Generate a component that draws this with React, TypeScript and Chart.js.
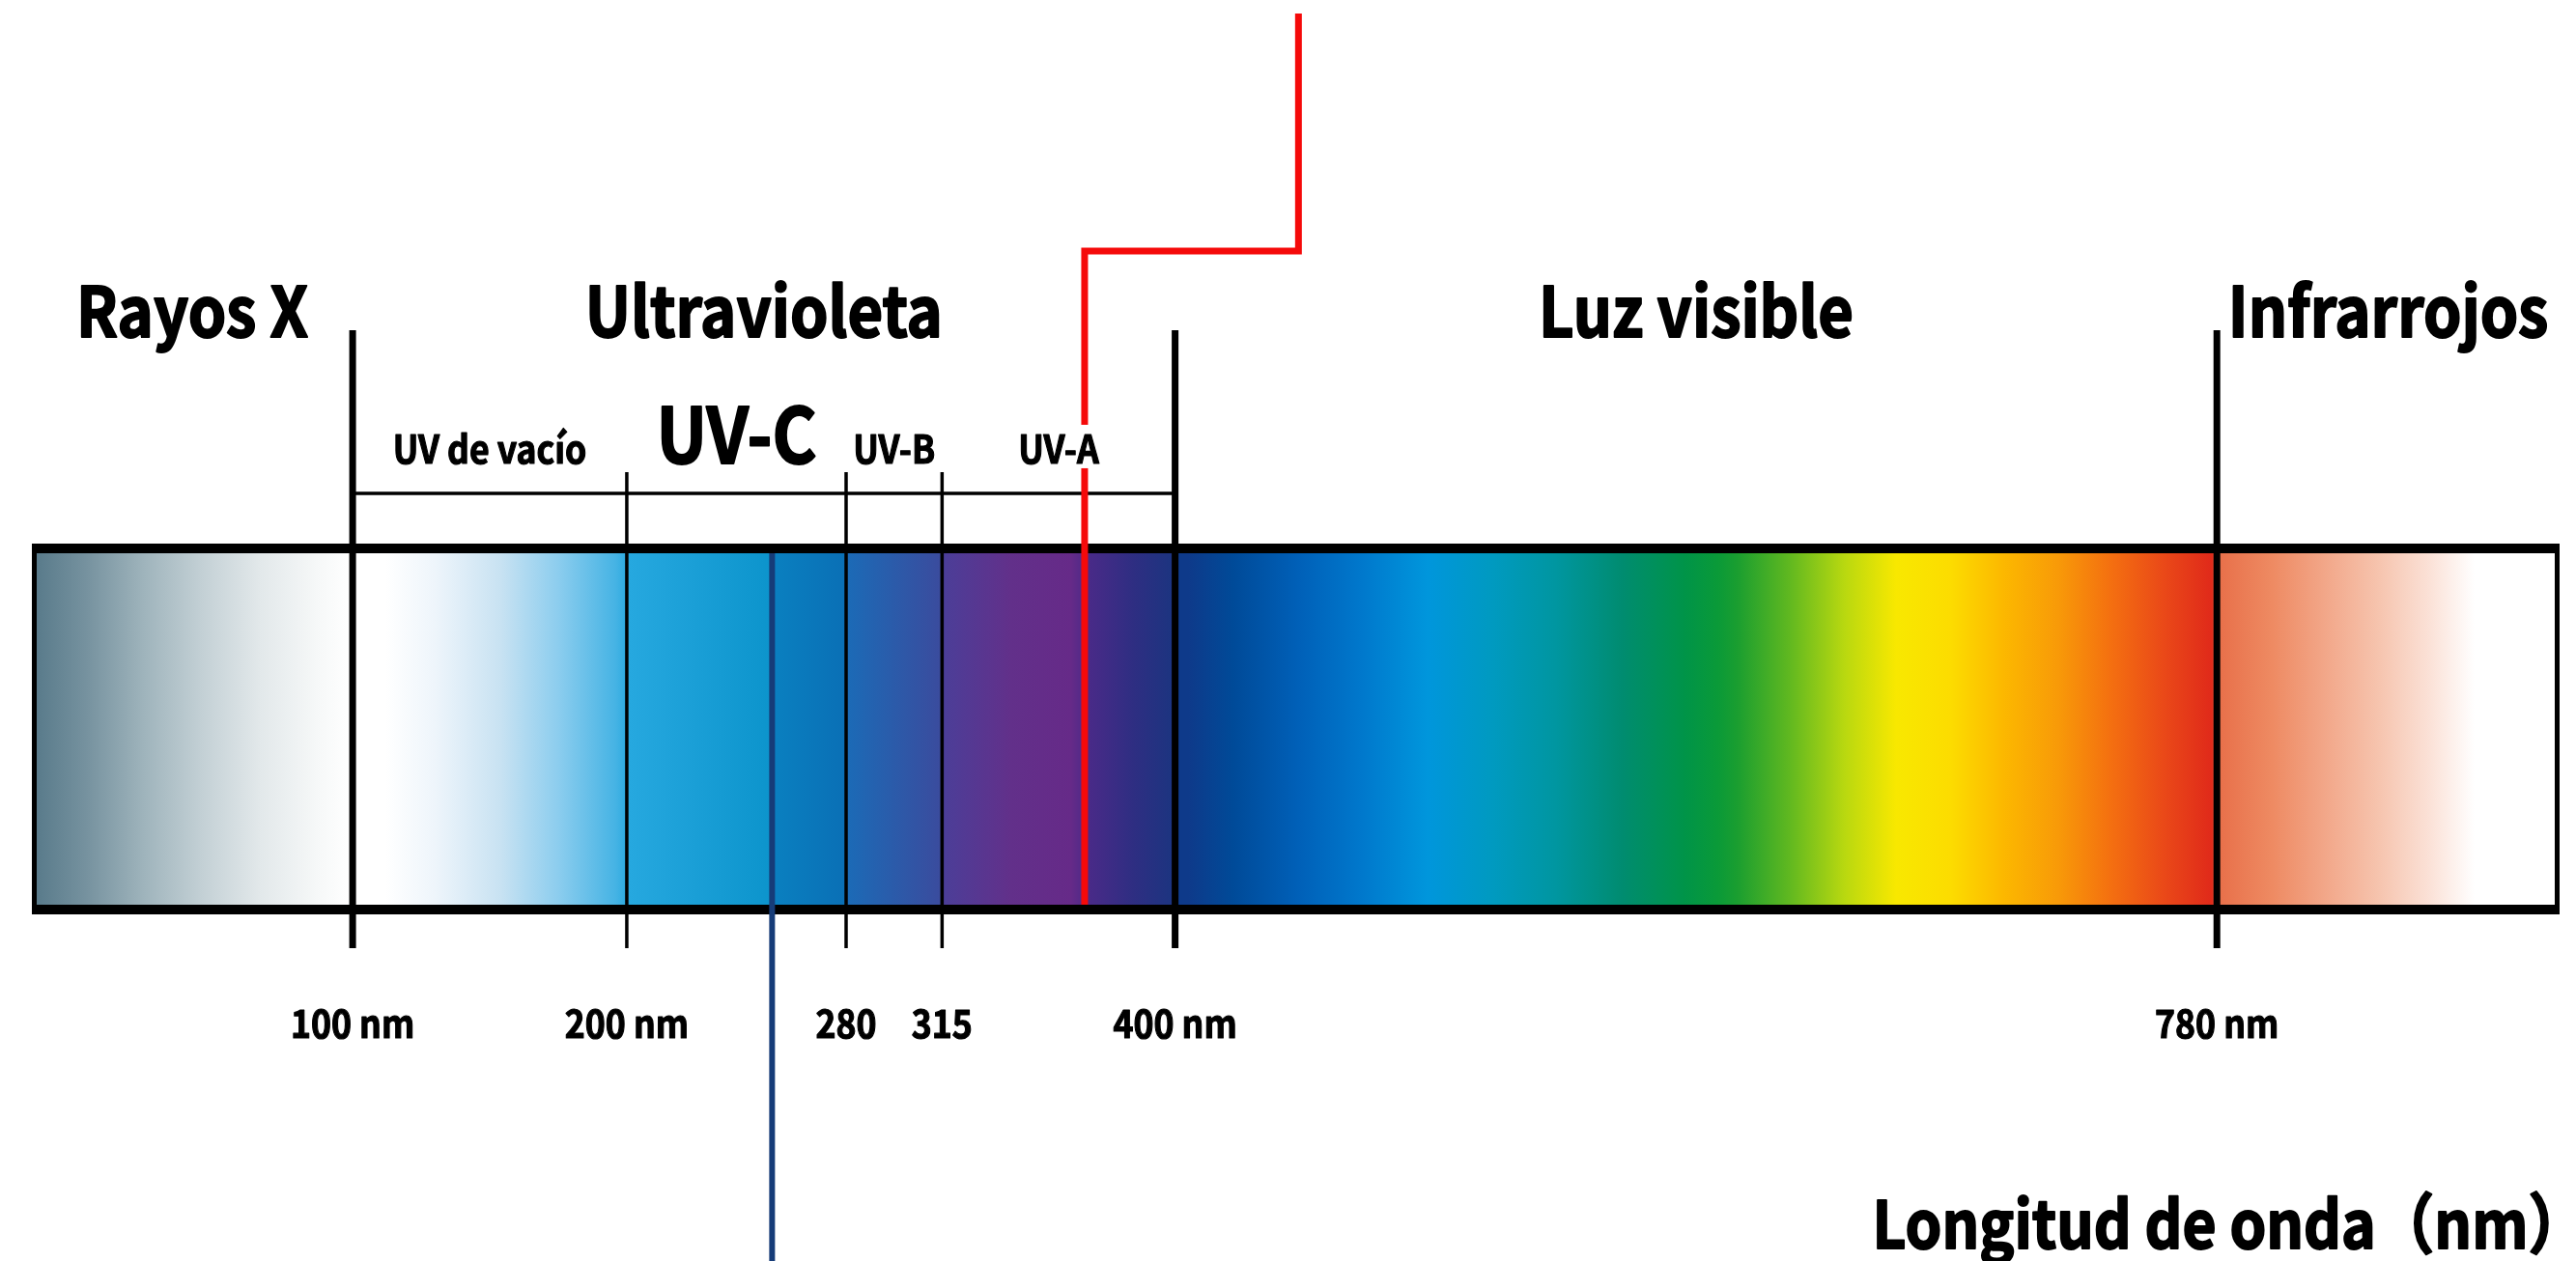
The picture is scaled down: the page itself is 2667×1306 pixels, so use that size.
import React, { useEffect, useRef } from "react";
import { Chart, registerables } from "chart.js";

Chart.register(...registerables);

// ---- axis range (wavelength, nm) and vertical frame (0..100 units) ----
const xRange = [-17, 905];
const yRange = [0, 100];

// ---- spectrum regions ----
const regionNames = ["Rayos X", "Ultravioleta", "Luz visible", "Infrarrojos"];
const regionBounds = [-17, 100, 400, 780, 905];

// ---- UV sub-bands ----
const uvBandNames = ["UV de vacío", "UV-C", "UV-B", "UV-A"];
const uvBandBounds = [100, 200, 280, 315, 400];

// ---- wavelength tick labels ----
const tickValues = [100, 200, 280, 315, 400, 780];
const tickLabels = ["100 nm", "200 nm", "280", "315", "400 nm", "780 nm"];

// ---- boundary lines ----
const majorLines = [100, 400, 780];
const minorLines = [200, 280, 315];

// ---- lamp markers ----
const uvaLampNm = 367;
const uvaCalloutNm = 445;
const uvcLampNm = 253;

// ---- vertical levels (0..100) ----
const barTop = 56.51;
const barBottom = 27.87;
const barInnerTop = 56.13;
const barInnerBottom = 28.25;
const majorLineTop = 73.81;
const minorLineTop = 62.56;
const lineBottom = 24.81;
const bracketLevel = 60.87;
const calloutElbow = 80.09;
const calloutTop = 98.93;
const titleLevel = 73.28;
const bandLabelLevel = 63.25;
const tickLabelLevel = 17.69;
const axisTitleLevel = 1.0;

const axisTitle = "Longitud de onda（nm）";

// ---- gradient stops (nm, colour) ----
const gradientNm = [
  -16, 3, 24, 45, 66, 87, 99,
  101, 112, 130, 154, 175, 196, 201, 252.9, 253.1, 279, 281, 314, 316, 340, 362, 368, 385, 399,
  401, 405, 421, 445, 468, 492, 516, 539, 563, 586, 598, 605, 624, 644, 663, 683, 702, 722, 741, 760, 778,
  781, 800, 819, 839, 858, 874, 905,
];
const gradientColors = [
  "#587a8a", "#76929f", "#9fb4bc", "#c3d0d5", "#e2e8ea", "#f6f8f8", "#ffffff",
  "#ffffff", "#ffffff", "#eef5fb", "#c8e2f2", "#8ccdee", "#45b3e4", "#26a8df", "#0c94cc", "#0a80c0", "#0a70b6", "#1c6ab6", "#3a4c9e", "#4c3e98", "#62308a", "#662a88", "#4a2a88", "#2e2e82", "#1c3480",
  "#0e3a8a", "#0e3a8a", "#004a98", "#0060b8", "#0078cc", "#0096dc", "#009ac0", "#0096a0", "#008c70", "#009448", "#0a9a38", "#1a9e30", "#60b820", "#b8d810", "#f8e800", "#fcdc00", "#fcb800", "#f89a08", "#f47010", "#ea4a18", "#e02a1a",
  "#e8704a", "#ee8a62", "#f2a688", "#f6c4ae", "#fbe2d8", "#ffffff", "#ffffff",
];

const FONT = '"Noto Sans CJK SC", "Noto Sans", sans-serif';
const CONDENSE = 0.89;

function vline(x: number, y0: number, y1: number, color: string, width: number) {
  return {
    data: [
      { x, y: y0 },
      { x, y: y1 },
    ],
    showLine: true,
    borderColor: color,
    borderWidth: width,
    pointRadius: 0,
    borderCapStyle: "butt",
    fill: false,
  };
}

function drawText(
  ctx: any,
  text: string,
  x: number,
  y: number,
  font: string,
  align: string,
  heavy: number,
  backing = false
) {
  ctx.save();
  ctx.font = font;
  ctx.textAlign = align;
  ctx.textBaseline = "alphabetic";
  ctx.translate(x, y);
  ctx.scale(CONDENSE, 1);
  if (backing) {
    const m = ctx.measureText(text);
    const asc = m.actualBoundingBoxAscent;
    const desc = m.actualBoundingBoxDescent;
    const left = align === "center" ? -m.width / 2 : align === "right" ? -m.width : 0;
    ctx.fillStyle = "#fff";
    ctx.fillRect(left - 4, -asc - 10, m.width + 8, asc + desc + 14);
  }
  ctx.fillStyle = "#000";
  ctx.strokeStyle = "#000";
  ctx.lineJoin = "round";
  ctx.lineWidth = heavy;
  ctx.strokeText(text, 0, 0);
  ctx.fillText(text, 0, 0);
  ctx.restore();
}

const labelsPlugin = {
  id: "spectrumLabels",
  afterDatasetsDraw(chart: any) {
    const { ctx, scales } = chart;
    const xs = scales.x;
    const ys = scales.y;

    regionNames.forEach((name, i) => {
      const cx = xs.getPixelForValue((regionBounds[i] + regionBounds[i + 1]) / 2);
      drawText(ctx, name, cx, ys.getPixelForValue(titleLevel), `bold 71px ${FONT}`, "center", 2);
    });

    uvBandNames.forEach((name, i) => {
      const big = name === "UV-C";
      const cx = xs.getPixelForValue((uvBandBounds[i] + uvBandBounds[i + 1]) / 2);
      drawText(
        ctx,
        name,
        cx,
        ys.getPixelForValue(bandLabelLevel),
        big ? `bold 79px ${FONT}` : `bold 40px ${FONT}`,
        "center",
        big ? 2 : 1.2,
        true
      );
    });

    tickValues.forEach((v, i) => {
      drawText(
        ctx,
        tickLabels[i],
        xs.getPixelForValue(v),
        ys.getPixelForValue(tickLabelLevel),
        `bold 40px ${FONT}`,
        "center",
        1.2
      );
    });

    drawText(
      ctx,
      axisTitle,
      xs.getPixelForValue(xRange[1]) + 28,
      ys.getPixelForValue(axisTitleLevel),
      `bold 68px ${FONT}`,
      "right",
      2
    );
  },
};

export default function App() {
  const ref = useRef<HTMLCanvasElement>(null);
  useEffect(() => {
    if (!ref.current) return;
    const datasets: any[] = [];
    // red UV-A callout (topmost)
    datasets.push({
      data: [
        { x: uvaLampNm, y: barInnerBottom },
        { x: uvaLampNm, y: calloutElbow },
        { x: uvaCalloutNm, y: calloutElbow },
        { x: uvaCalloutNm, y: calloutTop },
      ],
      showLine: true,
      borderColor: "#f50a0a",
      borderWidth: 7,
      pointRadius: 0,
      borderJoinStyle: "miter",
      fill: false,
    });
    // blue UV-C lamp line
    datasets.push(vline(uvcLampNm, barInnerTop, yRange[0] - 2, "#163c78", 6));
    // bar outline
    datasets.push({
      data: [
        { x: xRange[0], y: barBottom },
        { x: xRange[0], y: barTop },
        { x: xRange[1], y: barTop },
        { x: xRange[1], y: barBottom },
        { x: xRange[0], y: barBottom },
      ],
      showLine: true,
      borderColor: "#000",
      borderWidth: 10,
      pointRadius: 0,
      borderJoinStyle: "miter",
      borderCapStyle: "square",
      fill: false,
    });
    majorLines.forEach((v) => datasets.push(vline(v, lineBottom, majorLineTop, "#000", 7)));
    minorLines.forEach((v) => datasets.push(vline(v, lineBottom, minorLineTop, "#000", 3.5)));
    // bracket over UV
    datasets.push({
      data: [
        { x: uvBandBounds[0], y: bracketLevel },
        { x: uvBandBounds[uvBandBounds.length - 1], y: bracketLevel },
      ],
      showLine: true,
      borderColor: "#000",
      borderWidth: 3.5,
      pointRadius: 0,
      fill: false,
    });
    // spectrum fill
    datasets.push({
      data: [
        { x: xRange[0], y: barTop },
        { x: xRange[1], y: barTop },
      ],
      showLine: true,
      borderWidth: 0,
      borderColor: "rgba(0,0,0,0)",
      pointRadius: 0,
      fill: { value: barBottom },
      backgroundColor: (c: any) => {
        const chart = c.chart;
        if (!chart.chartArea) return "rgba(0,0,0,0)";
        const xs = chart.scales.x;
        const x0 = xs.getPixelForValue(xRange[0]);
        const x1 = xs.getPixelForValue(xRange[1]);
        const g = chart.ctx.createLinearGradient(x0, 0, x1, 0);
        gradientNm.forEach((nm, i) => {
          const t = Math.min(1, Math.max(0, (nm - xRange[0]) / (xRange[1] - xRange[0])));
          g.addColorStop(t, gradientColors[i]);
        });
        return g;
      },
    });

    const chart = new Chart(ref.current, {
      type: "scatter",
      data: { datasets },
      options: {
        animation: false,
        responsive: false,
        devicePixelRatio: 1,
        layout: { padding: { left: 33, right: 17, top: 0, bottom: 0 } },
        scales: {
          x: { type: "linear", min: xRange[0], max: xRange[1], display: false },
          y: { type: "linear", min: yRange[0], max: yRange[1], display: false },
        },
        plugins: { legend: { display: false }, tooltip: { enabled: false } },
        events: [],
      },
      plugins: [labelsPlugin],
    } as any);
    return () => chart.destroy();
  }, []);
  return (
    <canvas
      ref={ref}
      width={2667}
      height={1306}
      style={{ position: "absolute", left: 0, top: 0, width: 2667, height: 1306, display: "block" }}
    />
  );
}
